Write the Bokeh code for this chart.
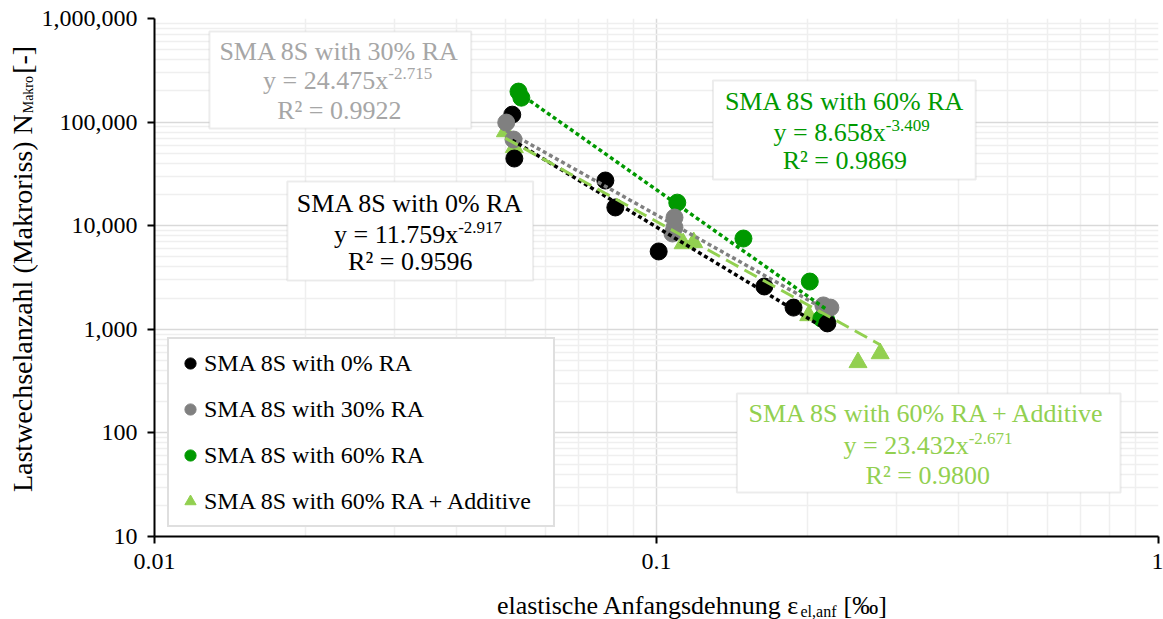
import math
from bokeh.plotting import figure
from bokeh.layouts import column, row
from bokeh.models import (Range1d, FixedTicker, NumeralTickFormatter, Legend, LegendItem,
                          BoxAnnotation, Label)
from bokeh.embed import file_html
from bokeh.resources import INLINE

# ---- measured fatigue data: initial elastic strain [‰] vs. load cycles to macro crack ----
series_names = ["SMA 8S with 0% RA", "SMA 8S with 30% RA", "SMA 8S with 60% RA",
                "SMA 8S with 60% RA + Additive"]

strain_0 = [0.0516, 0.0521, 0.0791, 0.0828, 0.101, 0.164, 0.1875, 0.219]
cycles_0 = [118000, 44500, 27300, 15000, 5640, 2590, 1620, 1140]

strain_30 = [0.0502, 0.0519, 0.1086, 0.1086, 0.1076, 0.215, 0.222]
cycles_30 = [99000, 67900, 12000, 9620, 8410, 1700, 1620]

strain_60 = [0.0531, 0.0538, 0.110, 0.149, 0.202, 0.213, 0.218]
cycles_60 = [197000, 172000, 16700, 7520, 2890, 1270, 1220]

strain_add = [0.0500, 0.0521, 0.113, 0.1186, 0.201, 0.252, 0.279]
cycles_add = [81100, 57000, 6730, 6900, 1360, 479, 584]

# power-law fits  N = a * eps^b
fit_a = [11.759, 24.475, 8.658, 23.432]
fit_b = [-2.917, -2.715, -3.409, -2.671]
fit_r2 = ["0.9596", "0.9922", "0.9869", "0.9800"]

y_ticks = [10, 100, 1000, 10000, 100000, 1000000]
x_ticks = [0.01, 0.1, 1]

colors = ["#000000", "#808080", "#009900", "#92d050"]
box_text_colors = ["#000000", "#a6a6a6", "#009900", "#92d050"]

FONT = "Liberation Serif"
W, H = 1163, 619
LEFT_W = 38            # strip holding the vertical axis title
MAIN_H = 590           # main chart height; the strip below holds the x title
FX0, FX1, FY0, FY1 = 153, 1158, 18, 536  # plot frame in page pixels

p = figure(width=W - LEFT_W, height=MAIN_H, x_axis_type="log", y_axis_type="log",
           x_range=Range1d(0.01, 1), y_range=Range1d(10, 1e6),
           min_border_left=FX0 - LEFT_W, min_border_right=W - FX1,
           min_border_top=FY0, min_border_bottom=MAIN_H - FY1,
           output_backend="svg", toolbar_location=None)
p.outline_line_color = None
p.background_fill_color = "white"
p.border_fill_color = "white"


def dx(px):
    """page x pixel -> data x on the log axis"""
    return 10 ** (-2 + 2 * (px - FX0) / (FX1 - FX0))


def dy(py):
    """page y pixel -> data y on the log axis"""
    return 10 ** (1 + 5 * (FY1 - py) / (FY1 - FY0))


# ---- axes & grid ----
minor_x = [m * d for d in (0.01, 0.1) for m in range(2, 10)]
minor_y = [m * d for d in (10, 100, 1000, 10000, 100000) for m in range(2, 10)]
p.xaxis.ticker = FixedTicker(ticks=x_ticks, minor_ticks=minor_x)
p.yaxis.ticker = FixedTicker(ticks=y_ticks, minor_ticks=minor_y)
p.xaxis.formatter = NumeralTickFormatter(format="0.[00]")
p.yaxis.formatter = NumeralTickFormatter(format="0,0")

for ax in (p.xaxis, p.yaxis):
    ax.axis_line_color = "black"
    ax.axis_line_width = 2
    ax.major_tick_line_color = "black"
    ax.major_tick_line_width = 2
    ax.major_tick_out = 7
    ax.major_tick_in = 0
    ax.minor_tick_line_color = None
    ax.major_label_text_font = FONT
    ax.major_label_text_font_size = "24px"
    ax.major_label_text_color = "black"
    ax.major_label_standoff = 10

for g in (p.xgrid, p.ygrid):
    g.grid_line_color = "#d9d9d9"
    g.grid_line_width = 1.5
    g.minor_grid_line_color = "#efefef"
    g.minor_grid_line_width = 1.5

# ---- markers ----
r_add = p.scatter(strain_add, cycles_add, marker="triangle", size=18,
                  fill_color=colors[3], line_color=colors[3])
r60 = p.scatter(strain_60, cycles_60, marker="circle", size=17,
                fill_color=colors[2], line_color=colors[2])
r0 = p.scatter(strain_0, cycles_0, marker="circle", size=17,
               fill_color=colors[0], line_color=colors[0])
r30 = p.scatter(strain_30, cycles_30, marker="circle", size=17,
                fill_color=colors[1], line_color=colors[1])

# ---- power-law trendlines over each series' strain range ----
all_strains = [strain_0, strain_30, strain_60, strain_add]
for i, xs in enumerate(all_strains):
    lo, hi = min(xs), max(xs)
    n = 60
    tx = [lo * (hi / lo) ** (k / (n - 1)) for k in range(n)]
    ty = [fit_a[i] * v ** fit_b[i] for v in tx]
    if i == 3:
        p.line(tx, ty, line_color=colors[i], line_width=3, line_dash="14 7")
    else:
        p.line(tx, ty, line_color=colors[i], line_width=3.5, line_dash="4 3")

# ---- legend ----
legend = Legend(items=[LegendItem(label=series_names[0], renderers=[r0]),
                       LegendItem(label=series_names[1], renderers=[r30]),
                       LegendItem(label=series_names[2], renderers=[r60]),
                       LegendItem(label=series_names[3], renderers=[r_add])],
                location=(13, FY1 - 527), orientation="vertical",
                label_text_font=FONT, label_text_font_size="24px",
                label_text_color="black", label_standoff=0,
                glyph_width=28, glyph_height=34, label_height=20, label_width=342,
                spacing=12, padding=7, margin=0,
                border_line_color="#bfbfbf", border_line_width=2,
                background_fill_color="white", background_fill_alpha=1)
p.add_layout(legend, "center")

# ---- equation boxes: (box l, r, t, b), text centre x, line centres, equation split x ----
boxes = [
    dict(i=0, box=(286, 532, 181, 280), cx=409, ys=(203, 234, 261), split=457),
    dict(i=1, box=(208, 470, 31, 128), cx=338, ys=(51, 80, 110), split=387),
    dict(i=2, box=(712, 975, 80, 179), cx=844, ys=(101, 132, 160), split=885),
    dict(i=3, box=(736, 1120, 393, 492), cx=927, ys=(413, 445, 475), split=968),
]

for b in boxes:
    i = b["i"]
    l, r, t, bt = b["box"]
    p.add_layout(BoxAnnotation(left=dx(l), right=dx(r), top=dy(t), bottom=dy(bt),
                               fill_color="white", fill_alpha=1,
                               line_color="#bfbfbf", line_width=2))
    col = box_text_colors[i]
    y1, y2, y3 = b["ys"]
    p.add_layout(Label(x=dx(b["cx"]), y=dy(y1), text=series_names[i],
                       text_align="center", text_baseline="middle",
                       text_font=FONT, text_font_size="26px", text_color=col))
    p.add_layout(Label(x=dx(b["split"]), y=dy(y2), text="y = %.3fx" % fit_a[i],
                       text_align="right", text_baseline="middle",
                       text_font=FONT, text_font_size="26px", text_color=col))
    p.add_layout(Label(x=dx(b["split"]), y=dy(y2 - 7), text="%.3f" % fit_b[i],
                       text_align="left", text_baseline="middle",
                       text_font=FONT, text_font_size="17px", text_color=col))
    p.add_layout(Label(x=dx(b["cx"]), y=dy(y3), text="R² = " + fit_r2[i],
                       text_align="center", text_baseline="middle",
                       text_font=FONT, text_font_size="26px", text_color=col))


def text_strip(width, height, y_top):
    """blank strip whose data coordinates equal page pixels (y grows downward)"""
    f = figure(width=width, height=height, x_range=Range1d(0, width),
               y_range=Range1d(y_top + height, y_top), x_axis_type=None, y_axis_type=None,
               min_border=0, output_backend="svg", toolbar_location=None)
    f.outline_line_color = None
    f.background_fill_color = "white"
    f.border_fill_color = "white"
    return f


# ---- vertical axis title: Lastwechselanzahl (Makroriss) N_Makro [-] ----
ytitle = text_strip(LEFT_W, MAIN_H, 0)
yl_x, yl_split = 22, 109
ytitle.add_layout(Label(x=yl_x, y=yl_split, text="Lastwechselanzahl (Makroriss) N",
                        angle=math.pi / 2, text_align="right", text_baseline="middle",
                        text_font=FONT, text_font_size="28px", text_color="black"))
ytitle.add_layout(Label(x=yl_x + 6, y=yl_split - 1, text="Makro",
                        angle=math.pi / 2, text_align="left", text_baseline="middle",
                        text_font=FONT, text_font_size="14px", text_color="black"))
ytitle.add_layout(Label(x=yl_x, y=yl_split - 46, text="[-]",
                        angle=math.pi / 2, text_align="left", text_baseline="middle",
                        text_font=FONT, text_font_size="28px", text_color="black"))

# ---- horizontal axis title: elastische Anfangsdehnung eps_el,anf [‰] ----
xtitle = text_strip(W, H - MAIN_H, MAIN_H)
xl_y, xl_split = 605, 799
xtitle.add_layout(Label(x=xl_split, y=xl_y, text="elastische Anfangsdehnung ε",
                        text_align="right", text_baseline="middle",
                        text_font=FONT, text_font_size="26px", text_color="black"))
xtitle.add_layout(Label(x=xl_split + 1, y=xl_y + 6, text="el,anf",
                        text_align="left", text_baseline="middle",
                        text_font=FONT, text_font_size="16px", text_color="black"))
xtitle.add_layout(Label(x=xl_split + 44, y=xl_y, text="[‰]",
                        text_align="left", text_baseline="middle",
                        text_font=FONT, text_font_size="26px", text_color="black"))

page = column(row(ytitle, p), xtitle)
open("out.html", "w").write(file_html(page, INLINE))
